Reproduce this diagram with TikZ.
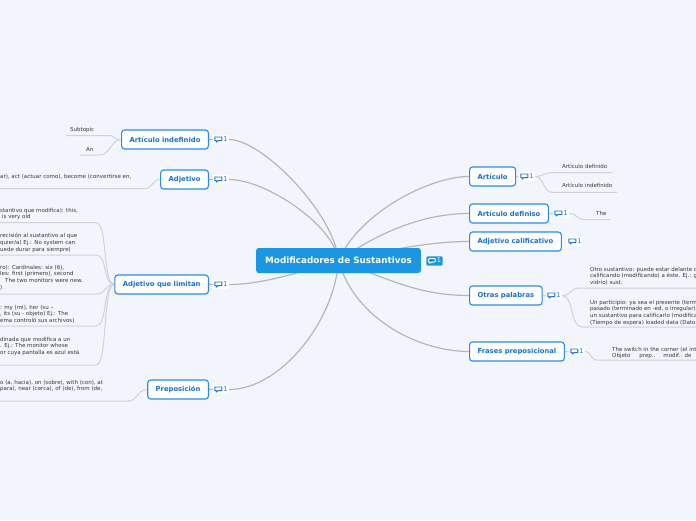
\documentclass[tikz,border=0pt]{standalone}
\usepackage{fontspec}
\setmainfont{DejaVu Sans}
\usetikzlibrary{backgrounds}

\definecolor{paper}{HTML}{F3F5FD}
\definecolor{rootblue}{HTML}{1B96E3}
\definecolor{topicline}{HTML}{2C8BEA}
\definecolor{topictext}{HTML}{1D6FD2}
\definecolor{branchgray}{HTML}{B6B6BA}
\definecolor{twiggray}{HTML}{D0D2DA}
\definecolor{leaftext}{HTML}{383838}

\newcommand{\cmticon}[1]{\tikz[x=1pt,y=1pt,baseline=0pt]{\draw[#1,line width=.9pt,line join=round] (0,0.6)--(0,4.2)--(7,4.2)--(7,0.6)--(3,0.6)--(1.5,-0.9)--(1.5,0.6)--cycle;}}

\tikzset{
  root/.style={fill=rootblue,rounded corners=2.5pt,text=white,font=\bfseries\fontsize{8.8}{10}\selectfont,minimum height=25pt,inner xsep=9pt},
  rootbadge/.style={fill=rootblue,rounded corners=1pt,text=white,font=\fontsize{6.5}{7}\selectfont,inner xsep=1.5pt,inner ysep=1.5pt},
  topic/.style={draw=topicline,line width=1.1pt,rounded corners=3pt,fill=white,text=topictext,font=\bfseries\fontsize{6.8}{8}\selectfont,minimum height=19pt,inner xsep=8pt},
  badge/.style={fill=white,text=topictext,font=\fontsize{6.5}{7}\selectfont,inner xsep=1.2pt,inner ysep=1.5pt},
  leaf/.style={text=leaftext,font=\fontsize{5.5}{6.8}\selectfont,inner sep=0pt,align=left},
  branch/.style={draw=branchgray,line width=1.2pt},
  twig/.style={draw=twiggray,line width=1pt},
}

\begin{document}
\begin{tikzpicture}[x=1pt,y=-1pt]
\useasboundingbox (0,0) rectangle (696,520);
\clip (0,0) rectangle (696,520);

% centre
\node[root] (root) at (338.5,260.5) {Modificadores de Sustantivos};
\node[rootbadge] (root-c) at (434.5,261) {\cmticon{white}\,1};

% left topics
\node[topic,anchor=east] (ai) at (209,139.5) {Artículo indefinido};
\node[badge] (ai-c) at (221,139.5) {\cmticon{topictext}\,1};
\node[topic,anchor=east] (adj) at (209,179.5) {Adjetivo};
\node[badge] (adj-c) at (221,179.5) {\cmticon{topictext}\,1};
\node[topic,anchor=east] (adjl) at (209,284.5) {Adjetivo que limitan};
\node[badge] (adjl-c) at (221,284.5) {\cmticon{topictext}\,1};
\node[topic,anchor=east] (prep) at (209,389.5) {Preposición};
\node[badge] (prep-c) at (221,389.5) {\cmticon{topictext}\,1};

% right topics
\node[topic,anchor=west] (art) at (469,176.5) {Artículo};
\node[badge] (art-c) at (527,176.5) {\cmticon{topictext}\,1};
\node[topic,anchor=west] (artd) at (469,213.5) {Artículo definiso};
\node[badge] (artd-c) at (561,213.5) {\cmticon{topictext}\,1};
\node[topic,anchor=west] (adjc) at (469,241.5) {Adjetivo calificativo};
\node[badge] (adjc-c) at (575,241.5) {\cmticon{topictext}\,1};
\node[topic,anchor=west] (otras) at (469,295.5) {Otras palabras};
\node[badge] (otras-c) at (554,295.5) {\cmticon{topictext}\,1};
\node[topic,anchor=west] (frases) at (469,351.5) {Frases preposicional};
\node[badge] (frases-c) at (577,351.5) {\cmticon{topictext}\,1};

% leaves, left
\node[leaf,anchor=west] (sub) at (70,130) {Subtopic};
\node[leaf,anchor=west] (an) at (86,149) {An};
\node[leaf,anchor=north west] (adj1) at (0,173.8) {ar), act (actuar como), become (convertirse en,};
\node[leaf,anchor=north west] (lim1) at (0,207.8) {stantivo que modifica): this,\\\hspace*{2pt}is very old};
\node[leaf,anchor=north west] (lim2) at (0,232.8) {recisión al sustantivo al que\\quier/a) Ej.: No system can\\uede durar para siempre)};
\node[leaf,anchor=north west] (lim3) at (0,264.8) {ro): Cardinales: six (6),\\les: first (primero), second\\\hspace*{5pt}The two monitors were new.\\)};
\node[leaf,anchor=north west] (lim4) at (0,304.8) {: my (mi), her (su –\\, its (su - objeto) Ej.: The\\ema controló sus archivos)};
\node[leaf,anchor=north west] (lim5) at (0,336.8) {dinada que modifica a un\\. Ej.: The monitor whose\\or cuya pantalla es azul está};
\node[leaf,anchor=north west] (pre1) at (0,379.8) {o (a, hacia), on (sobre), with (con), at\\para), near (cerca), of (de), from (de,};

% leaves, right
\node[leaf,anchor=west] (art1) at (562,166.7) {Artículo definido};
\node[leaf,anchor=west] (art2) at (562,185.7) {Artículo indefinido};
\node[leaf,anchor=west] (def1) at (596,213.7) {The};
\node[leaf,anchor=north west] (otr1) at (590,266.8) {Otro sustantivo: puede estar delante d\\calificando (modificando) a éste. Ej.: g\\vidrio) sust.};
\node[leaf,anchor=north west] (otr2) at (590,299.8) {Un participio: ya sea el presente (term\\pasado (terminado en -ed, o irregular)\\un sustantivo para calificarlo (modifica\\(Tiempo de espera) loaded data (Dato};
\node[leaf,anchor=north west] (fra1) at (612,346.8) {The switch in the corner (el int\\Objeto\hspace{9pt}prep..\hspace{8pt}modif..\hspace{2.5pt}de};

% underline ends
\coordinate (sub-r) at (108,135.5); \coordinate (sub-l) at (66,135.5);
\coordinate (an-r) at (100,155); \coordinate (an-l) at (80,155);
\coordinate (adj1-r) at (145,188.5); \coordinate (adj1-l) at (0,188.5);
\coordinate (lim1-r) at (96,222.7); \coordinate (lim1-l) at (0,222.7);
\coordinate (lim2-r) at (96,255); \coordinate (lim2-l) at (0,255);
\coordinate (lim3-r) at (96,294); \coordinate (lim3-l) at (0,294);
\coordinate (lim4-r) at (96,326); \coordinate (lim4-l) at (0,326);
\coordinate (lim5-r) at (96,365); \coordinate (lim5-l) at (0,365);
\coordinate (pre1-r) at (128,401); \coordinate (pre1-l) at (0,401);
\coordinate (art1-l) at (552,172.7); \coordinate (art1-r) at (612,172.7);
\coordinate (art2-l) at (552,192.3); \coordinate (art2-r) at (617,192.3);
\coordinate (def1-l) at (585,219.5); \coordinate (def1-r) at (611,219.5);
\coordinate (otr1-l) at (580,288); \coordinate (otr1-r) at (696,288);
\coordinate (otr2-l) at (582,327); \coordinate (otr2-r) at (696,327);
\coordinate (fra1-l) at (597,360); \coordinate (fra1-r) at (696,360);

\begin{scope}[on background layer]
\fill[paper] (0,0) rectangle (696,520);
% main branches
\draw[branch] (root.center) .. controls +(-3.5,-45.5) and +(34,0) .. (ai-c.east) -- (ai.east);
\draw[branch] (root.center) .. controls +(-4.5,-35.5) and +(37,0) .. (adj-c.east) -- (adj.east);
\draw[branch] (root.center) .. controls +(-38.5,11.5) and +(34,0) .. (adjl-c.east) -- (adjl.east);
\draw[branch] (root.center) .. controls +(-3.5,59.5) and +(52,0) .. (prep-c.east) -- (prep.east);
\draw[branch] (root.center) .. controls +(21.5,-48.5) and +(-39,0) .. (art.west);
\draw[branch] (root.center) .. controls +(36.5,-25.5) and +(-49,0) .. (artd.west);
\draw[branch] (root.center) .. controls +(51.5,-10.5) and +(-39,0) .. (adjc.west);
\draw[branch] (root.center) .. controls +(51.5,19.5) and +(-49,0) .. (otras.west);
\draw[branch] (root.center) .. controls +(16.5,59.5) and +(-49,0) .. (frases.west);
% twigs, left
\draw[twig] (ai.west) .. controls +(-7,0) and +(7,0) .. (sub-r) -- (sub-l);
\draw[twig] (ai.west) .. controls +(-10,0) and +(10,0) .. (an-r) -- (an-l);
\draw[twig] (adj.west) .. controls +(-8,0) and +(8,0) .. (adj1-r) -- (adj1-l);
\draw[twig] (adjl.west) .. controls +(-12,0) and +(12,0) .. (lim1-r) -- (lim1-l);
\draw[twig] (adjl.west) .. controls +(-12,0) and +(12,0) .. (lim2-r) -- (lim2-l);
\draw[twig] (adjl.west) .. controls +(-12,0) and +(12,0) .. (lim3-r) -- (lim3-l);
\draw[twig] (adjl.west) .. controls +(-12,0) and +(12,0) .. (lim4-r) -- (lim4-l);
\draw[twig] (adjl.west) .. controls +(-12,0) and +(12,0) .. (lim5-r) -- (lim5-l);
\draw[twig] (prep.west) .. controls +(-10,0) and +(10,0) .. (pre1-r) -- (pre1-l);
% twigs, right
\draw[twig] (art.east) -- (art-c.east) .. controls +(9,0) and +(-9,0) .. (art1-l) -- (art1-r);
\draw[twig] (art.east) -- (art-c.east) .. controls +(9,0) and +(-9,0) .. (art2-l) -- (art2-r);
\draw[twig] (artd.east) -- (artd-c.east) .. controls +(9,0) and +(-9,0) .. (def1-l) -- (def1-r);
\draw[twig] (otras.east) -- (otras-c.east) .. controls +(10,0) and +(-10,0) .. (otr1-l) -- (otr1-r);
\draw[twig] (otras.east) -- (otras-c.east) .. controls +(12,0) and +(-12,0) .. (otr2-l) -- (otr2-r);
\draw[twig] (frases.east) -- (frases-c.east) .. controls +(7,0) and +(-7,0) .. (fra1-l) -- (fra1-r);
\end{scope}
\end{tikzpicture}
\end{document}
